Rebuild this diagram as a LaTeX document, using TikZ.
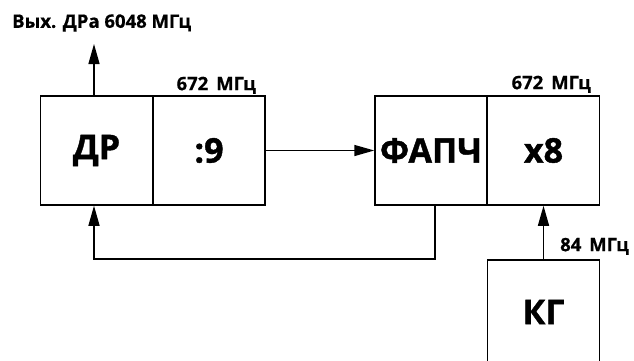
\documentclass[tikz,border=0pt]{standalone}
\usepackage{fontspec}
\setmainfont{Open Sans}
\newfontfamily\heavyfont{Open Sans}[BoldFeatures={FakeBold=1.2}]
\newfontfamily\semifont{Open Sans}[BoldFeatures={FakeBold=0.6}]
\usetikzlibrary{arrows.meta}
\begin{document}
\begin{tikzpicture}[x=1pt,y=-1pt,
  blk/.style={draw,line width=1.5pt,minimum width=112pt,minimum height=109pt,inner sep=0pt,font=\heavyfont\fontsize{34}{38}\selectfont\bfseries},
  lbl/.style={font=\semifont\fontsize{18.5}{20}\selectfont\bfseries,inner sep=0pt},
  conn/.style={line width=1.5pt},
  arr/.style={conn,-{Triangle[length=20pt,width=11pt]}}]
\useasboundingbox (0,0) rectangle (634,360);
\node[blk] (dr) at (96.5,150.5) {ДР};
\node[blk] (div) at (209,150.5) {:9};
\node[blk] (pll) at (431,150.5) {ФАПЧ};
\node[blk] (mul) at (543.5,150.5) {x8};
\node[blk,minimum height=130pt,anchor=north] (kg) at (543.5,259) {};
\node[font=\heavyfont\fontsize{34}{38}\selectfont\bfseries] (kgt) at (543.5,312) {КГ};
\coordinate (out) at (94,44);
\coordinate (fb1) at (435,259);
\coordinate (fb2) at (94,259);
\draw[arr] (dr.north -| out) -- (out);
\draw[arr] (div.east) -- (pll.west);
\draw[arr] (pll.south -| fb1) -- (fb1) -- (fb2) -- (dr.south -| fb2);
\draw[arr] (kg.north) -- (mul.south);
\node[lbl,anchor=west] (t1) at (12,23) {Вых. ДРа 6048 МГц};
\node[lbl,anchor=south east] (t2) at (256,94) {672 \,МГц};
\node[lbl,anchor=south east] (t3) at (591,93) {672 \,МГц};
\node[lbl,anchor=south west] (t4) at (560,255) {84 \,МГц};
\end{tikzpicture}
\end{document}
